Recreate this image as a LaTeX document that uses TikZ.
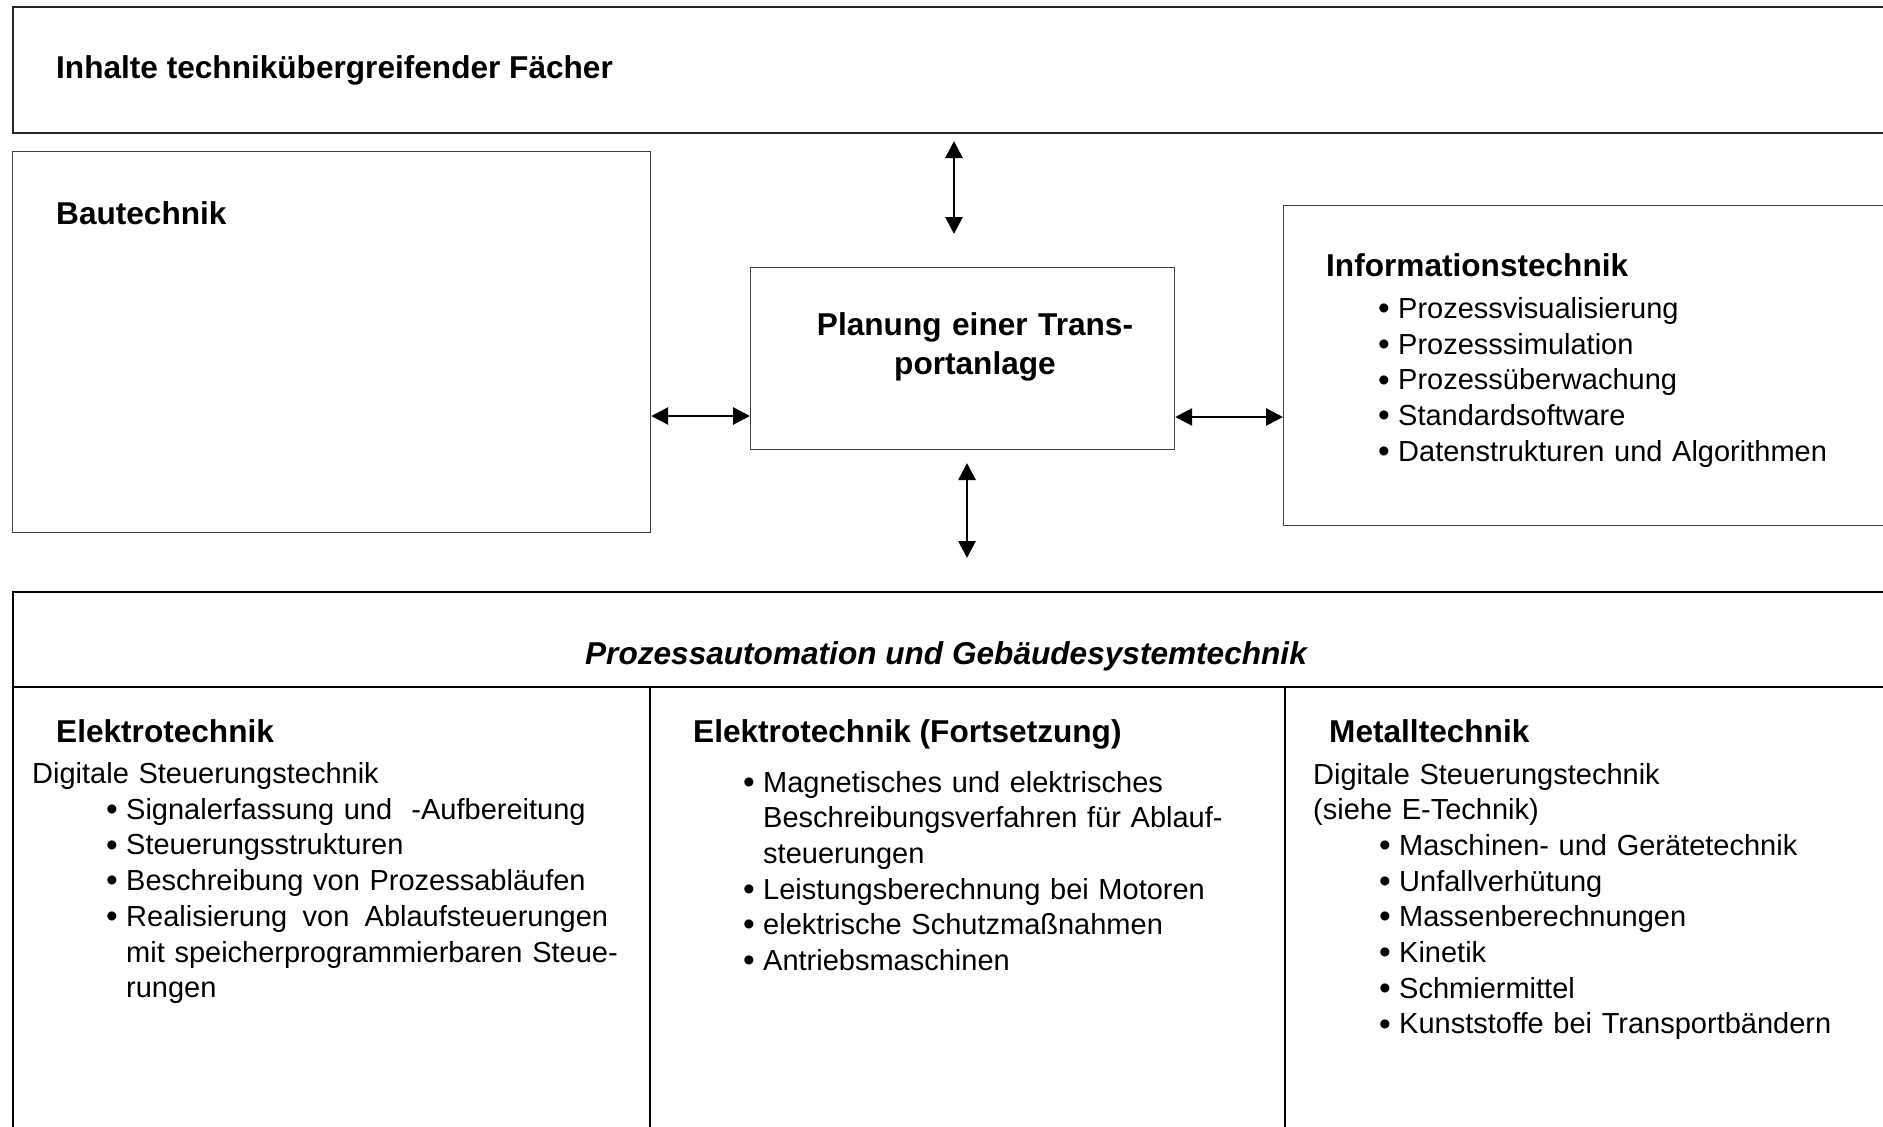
\documentclass[tikz,border=0pt]{standalone}
\usepackage{fontspec}
\usepackage{graphicx}
\setmainfont{Liberation Sans}
\usetikzlibrary{arrows.meta}

% type sizes (1pt in the picture = one unit of the grid)
\newcommand\bodysize{\fontsize{29}{35.7}\selectfont}
\newcommand\headsize{\fontsize{31.6}{39}\selectfont\bfseries}
% bullet and hanging indent for list lines
\newcommand\bul{\makebox[20pt][l]{\raisebox{-0.04em}{\scalebox{1.15}{•}}}}
\newcommand\cont{\hspace*{20pt}}

\begin{document}
\begin{tikzpicture}[x=1pt,y=-1pt,
  framebox/.style={draw=black!85,line width=1.5pt,anchor=north west,inner sep=0pt},
  thinbox/.style={draw=black!75,line width=1.2pt,anchor=north west,inner sep=0pt},
  mainbox/.style={draw=black,line width=2pt,anchor=north west,inner sep=0pt},
  divider/.style={draw=black,line width=1.2pt},
  biarrow/.style={line width=2.8pt,{Triangle[length=17pt,width=17pt]}-{Triangle[length=17pt,width=17pt]}},
  head/.style={anchor=base west,inner sep=0pt,font=\headsize},
  body/.style={anchor=base west,inner sep=0pt,font=\bodysize,text width=620pt,align=left}]

\clip (0,0) rectangle (1883,1127);
\fill[white] (0,0) rectangle (1883,1127);

% frames
\node[framebox,minimum width=1900pt,minimum height=126pt] (top) at (12,6) {};
\node[thinbox,minimum width=638pt,minimum height=381pt] (bau) at (12,151) {};
\node[thinbox,minimum width=424pt,minimum height=182pt] (plan) at (750,267) {};
\node[thinbox,minimum width=620pt,minimum height=320pt] (info) at (1283,205) {};
\node[mainbox,minimum width=1900pt,minimum height=560pt] (pag) at (12,591) {};

% header rule and column rules of the lower frame
\coordinate (hdrR) at (1900,687);
\draw[draw=black,line width=2pt] (pag.west |- hdrR) -- (hdrR);
\coordinate (colA) at (650,687);
\coordinate (colB) at (1285,687);
\draw[divider] (colA) -- (colA |- pag.south);
\draw[divider] (colB) -- (colB |- pag.south);

% connectors
\coordinate (lvlL) at (0,416);
\coordinate (lvlR) at (0,417);
\draw[biarrow] (bau.east |- lvlL) -- (plan.west |- lvlL);
\draw[biarrow] (plan.east |- lvlR) -- (info.west |- lvlR);
\coordinate (upT) at (954,141);
\coordinate (upB) at (954,234);
\draw[biarrow] (upT) -- (upB);
\coordinate (dnT) at (967,463);
\coordinate (dnB) at (967,558);
\draw[biarrow] (dnT) -- (dnB);

% texts of the upper part
\node[head] (ttl) at (56,78) {Inhalte technikübergreifender Fächer};
\node[head] (bauT) at (56,224.5) {Bautechnik};
\node[anchor=base,inner sep=0pt,font=\headsize,text width=420pt,align=center] (planT) at (975,335) {Planung einer Trans-\\portanlage};
\node[head] (infoT) at (1326,276.5) {Informationstechnik};
\node[body] (infoL) at (1378,318.5) {\bul Prozessvisualisierung\\
\bul Prozesssimulation\\
\bul Prozessüberwachung\\
\bul Standardsoftware\\
\bul Datenstrukturen und Algorithmen};

% texts of the lower part
\node[anchor=base,inner sep=0pt,font=\headsize\itshape] (pagT) at (946,664) {Prozessautomation und Gebäudesystemtechnik};

\node[head] (etT) at (56,742.5) {Elektrotechnik};
\node[body] (etS) at (32,783.5) {Digitale Steuerungstechnik};
\node[body] (etL) at (106,819.2) {\bul Signalerfassung und\ \ -Aufbereitung\\
\bul Steuerungsstrukturen\\
\bul Beschreibung von Prozessabläufen\\
\bul \makebox[482pt][l]{Realisierung\hfill von\hfill Ablaufsteuerungen}\\
\cont mit speicherprogrammierbaren Steue-\\
\cont rungen};

\node[head] (et2T) at (693,742.5) {Elektrotechnik (Fortsetzung)};
\node[body] (et2L) at (743,792) {\bul Magnetisches und elektrisches\\
\cont Beschreibungsverfahren für Ablauf-\\
\cont steuerungen\\
\bul Leistungsberechnung bei Motoren\\
\bul elektrische Schutzmaßnahmen\\
\bul Antriebsmaschinen};

\node[head] (mtT) at (1329,742.5) {Metalltechnik};
\node[body] (mtS) at (1313,784) {Digitale Steuerungstechnik\\
(siehe E-Technik)};
\node[body] (mtL) at (1379,855.4) {\bul Maschinen- und Gerätetechnik\\
\bul Unfallverhütung\\
\bul Massenberechnungen\\
\bul Kinetik\\
\bul Schmiermittel\\
\bul Kunststoffe bei Transportbändern};
\end{tikzpicture}
\end{document}
